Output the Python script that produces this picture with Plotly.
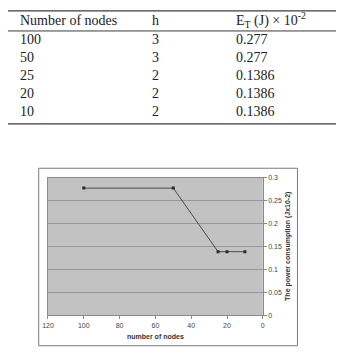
import plotly.graph_objects as go

# ---- data ----
nodes = [100, 50, 25, 20, 10]
hops = [3, 3, 2, 2, 2]
energy = [0.277, 0.277, 0.1386, 0.1386, 0.1386]
energy_labels = ["0.277", "0.277", "0.1386", "0.1386", "0.1386"]
table_headers = ["Number of nodes", "h", "E<sub>T</sub> (J) × 10<sup>-2</sup>"]
x_title = "number of nodes"
y_title = "The power consumption (Jx10-2)"

W, H = 340, 360


def px(x):
    return x / W


def py(y):
    return 1 - y / H


fig = go.Figure()
fig.add_trace(go.Scatter(
    x=nodes, y=energy, mode="lines+markers",
    line=dict(color="#4a4a4a", width=1),
    marker=dict(symbol="square", size=3, color="#2a2a2a"),
    showlegend=False, hoverinfo="skip",
))

tick_font = dict(family="Liberation Sans", size=7, color="#444444")

fig.update_layout(
    width=W, height=H,
    margin=dict(l=0, r=0, t=0, b=0),
    paper_bgcolor="white",
    plot_bgcolor="#c2c2c2",
    xaxis=dict(
        domain=[px(43), px(263)],
        range=[120, 0], dtick=20, tick0=0,
        showgrid=False, zeroline=False,
        showline=True, linecolor="#8a8a8a", linewidth=1, mirror=True,
        ticks="outside", ticklen=3, tickcolor="#8a8a8a",
        tickfont=tick_font,
    ),
    yaxis=dict(
        domain=[py(317.5), py(177)],
        range=[0, 0.3], dtick=0.05, tick0=0,
        side="right",
        showgrid=True, gridcolor="#989898", gridwidth=1,
        zeroline=False,
        showline=True, linecolor="#8a8a8a", linewidth=1, mirror=True,
        ticks="outside", ticklen=3, tickcolor="#8a8a8a",
        tickfont=tick_font,
    ),
)

shapes = []
# table rules
for yy, w in [(7, 1.3), (27.5, 1.0), (122.3, 1.3)]:
    shapes.append(dict(type="line", xref="paper", yref="paper",
                       x0=px(2), x1=px(338), y0=py(yy), y1=py(yy),
                       line=dict(color="#3c3c3c", width=w)))
# chart outer border
shapes.append(dict(type="rect", xref="paper", yref="paper",
                   x0=px(33.5), x1=px(298.5), y0=py(348.5), y1=py(167.5),
                   line=dict(color="#7a7a7a", width=1), fillcolor="rgba(0,0,0,0)",
                   layer="below"))
fig.update_layout(shapes=shapes)

annotations = []
serif = dict(family="Liberation Serif", size=14, color="#222222")
col_x = [12, 147, 233]
header_y = 16.5
for cx, t in zip(col_x, table_headers):
    annotations.append(dict(text=t, x=px(cx), y=py(header_y), xref="paper", yref="paper",
                            xanchor="left", yanchor="middle", showarrow=False, font=serif))
row_y0, row_dy = 36.7, 18.2
for i, (n, hh, e) in enumerate(zip(nodes, hops, energy_labels)):
    ry = row_y0 + i * row_dy
    for cx, t in zip(col_x, [str(n), str(hh), e]):
        annotations.append(dict(text=t, x=px(cx), y=py(ry), xref="paper", yref="paper",
                                xanchor="left", yanchor="middle", showarrow=False, font=serif))

title_font = dict(family="Liberation Sans", size=7, color="#333333")
annotations.append(dict(text="<b>" + x_title + "</b>", x=px(153), y=py(339.5),
                        xref="paper", yref="paper", xanchor="center", yanchor="middle",
                        showarrow=False, font=title_font))
annotations.append(dict(text="<b>" + y_title + "</b>", x=px(288.5), y=py(247),
                        xref="paper", yref="paper", xanchor="center", yanchor="middle",
                        textangle=-90, showarrow=False, font=title_font))
fig.update_layout(annotations=annotations)

fig.write_html("out.html")
